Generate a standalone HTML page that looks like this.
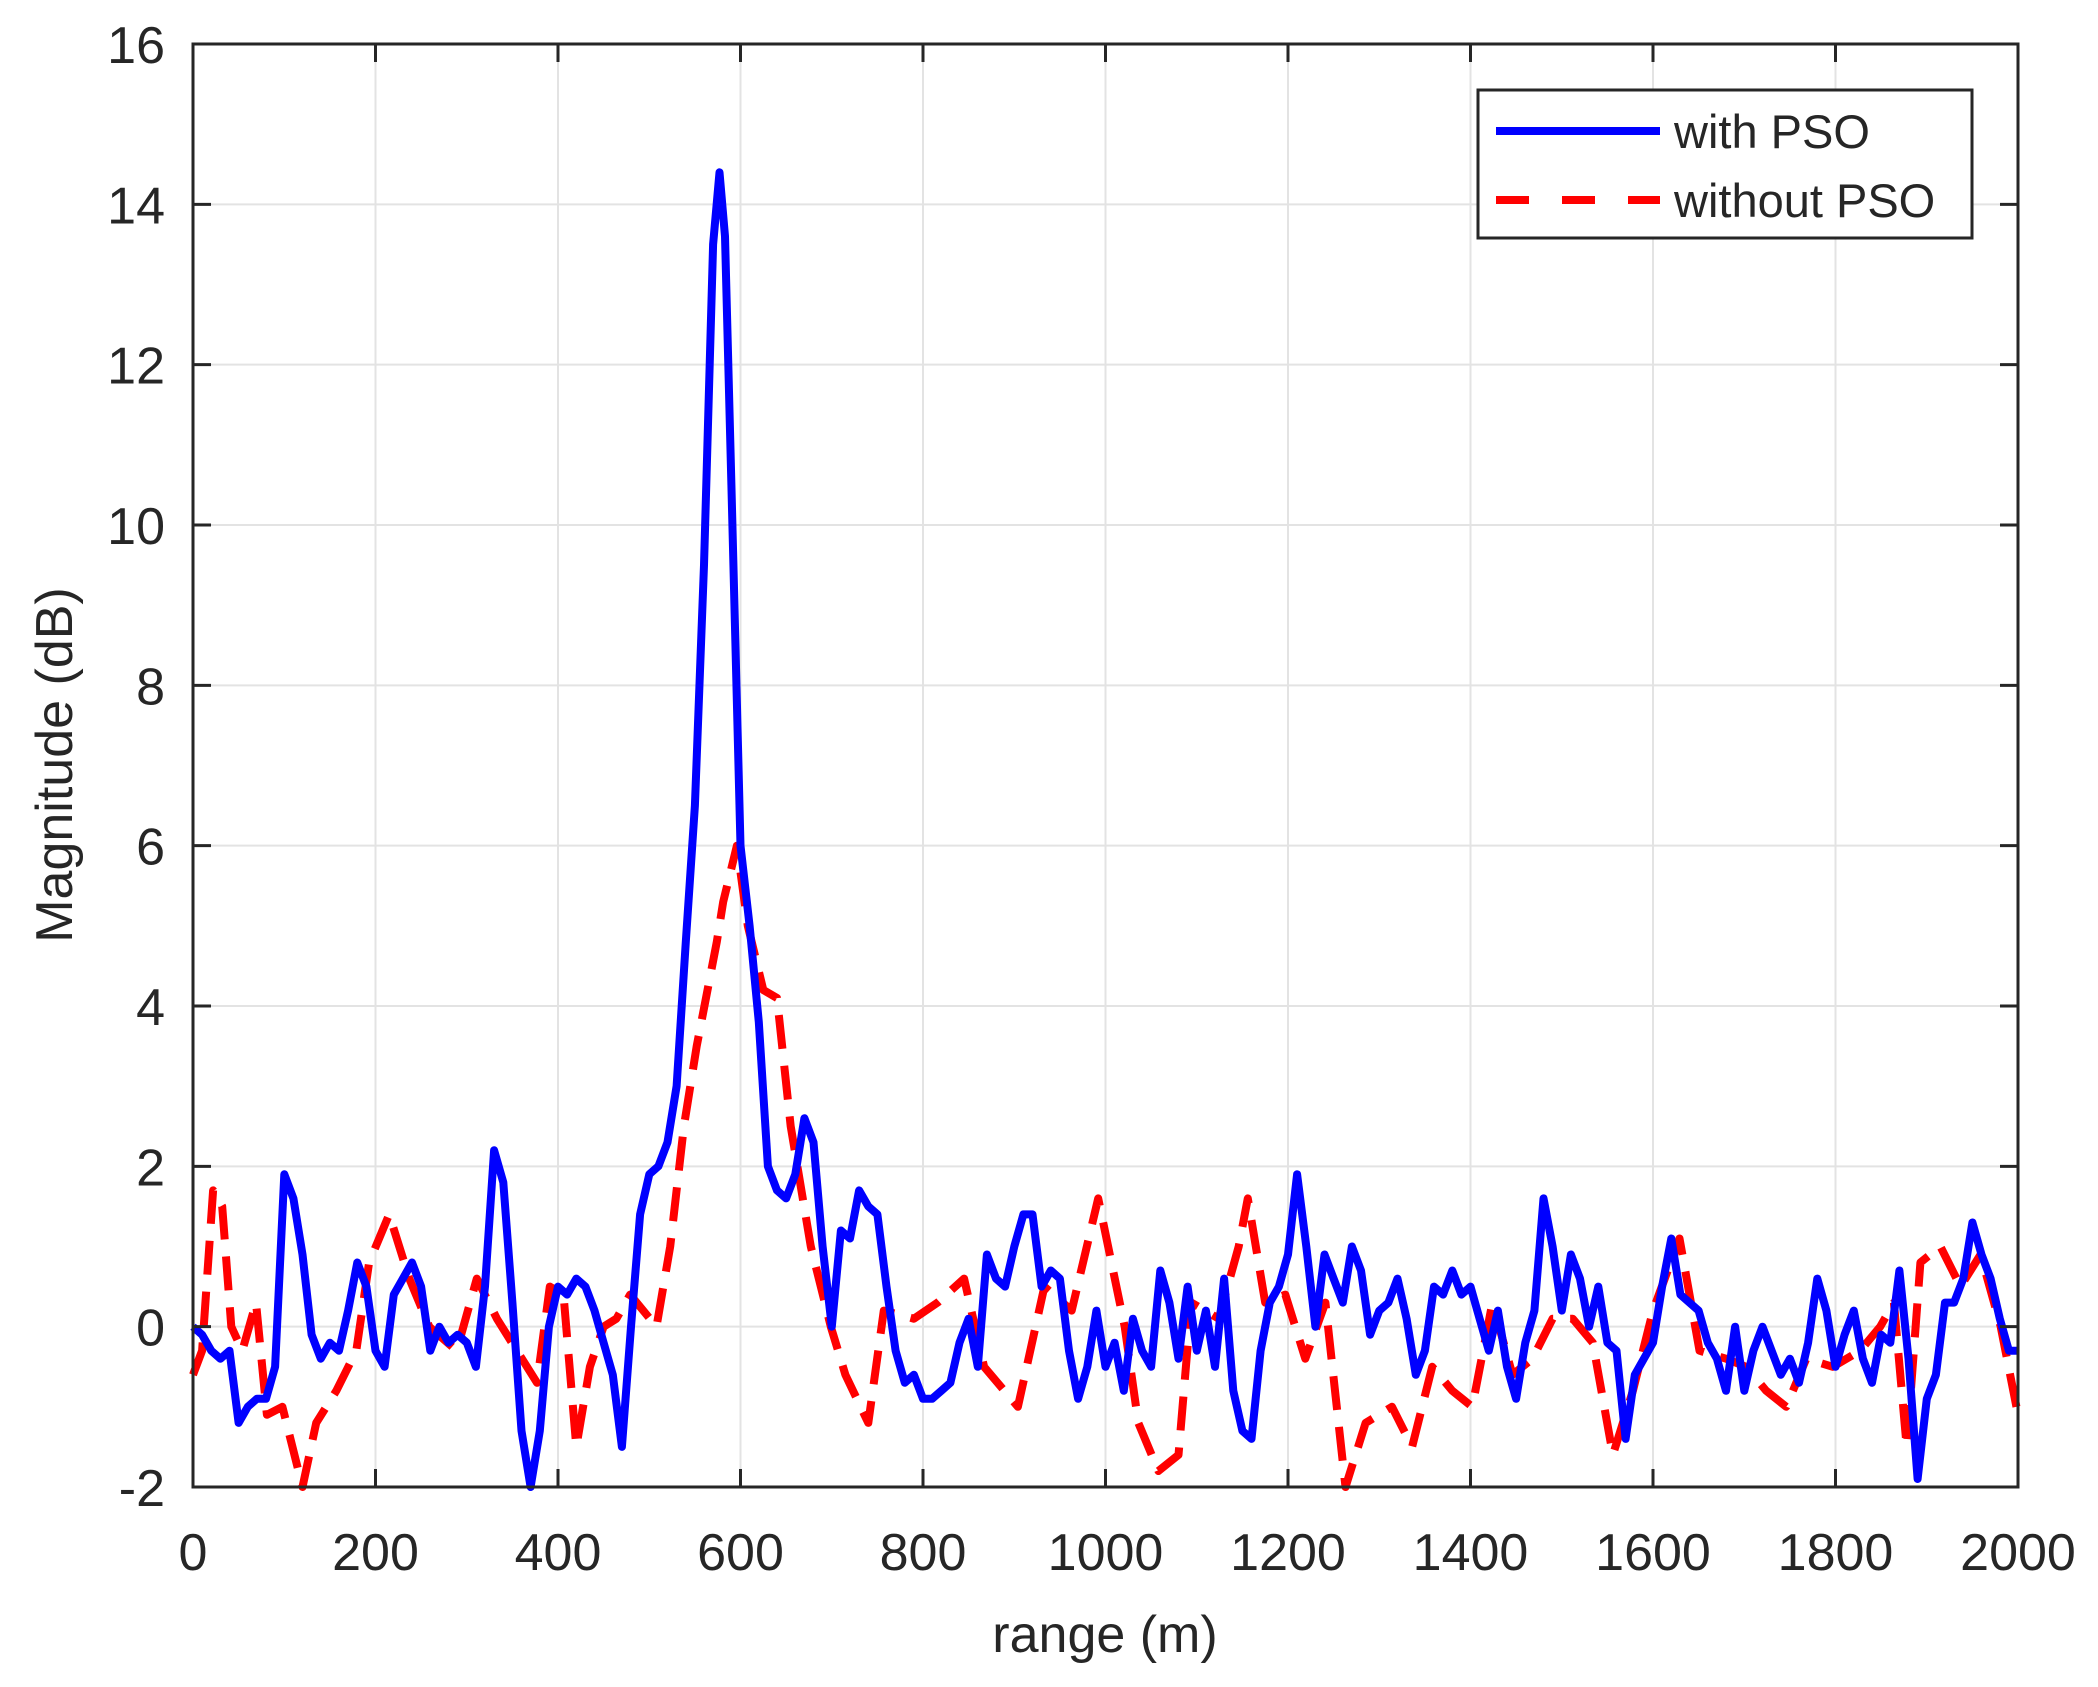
<!DOCTYPE html>
<html><head><meta charset="utf-8"><style>
html,body{margin:0;padding:0;background:#fff;}
svg{display:block;font-family:"Liberation Sans",Arial,sans-serif;}
</style></head><body>
<svg id="chart" width="2098" height="1687" viewBox="0 0 2098 1687" xmlns="http://www.w3.org/2000/svg">
<rect width="2098" height="1687" fill="#fff"/>
<g id="grid"></g>
<g id="series"></g>
<rect x="193" y="44" width="1825" height="1443" fill="none" stroke="#262626" stroke-width="3"/>
<g id="ticks"></g>
<text x="1105" y="1652" font-size="52" fill="#262626" text-anchor="middle">range (m)</text>
<text transform="translate(72,765) rotate(-90)" font-size="52" fill="#262626" text-anchor="middle">Magnitude (dB)</text>
<g>
<rect x="1478" y="90" width="494" height="148" fill="#fff" stroke="#262626" stroke-width="3"/>
<line x1="1496" y1="131" x2="1660" y2="131" stroke="#0000ff" stroke-width="8"/>
<text x="1674" y="148" font-size="47" fill="#262626">with PSO</text>
<line x1="1496" y1="200" x2="1660" y2="200" stroke="#ff0000" stroke-width="8" stroke-dasharray="33,33"/>
<text x="1674" y="217" font-size="47" fill="#262626">without PSO</text>
</g>
</svg>
<script>
const xTicks=[0,200,400,600,800,1000,1200,1400,1600,1800,2000];
const yTicks=[-2,0,2,4,6,8,10,12,14,16];
const withX=[0,10,20,30,40,50,60,70,80,90,100,110,120,130,140,150,160,170,180,190,200,210,220,230,240,250,260,270,280,290,300,310,320,330,340,350,360,370,380,390,400,410,420,430,440,450,460,470,480,490,500,510,520,530,540,550,560,570,577,583,590,600,610,620,630,640,650,660,670,680,690,700,710,720,730,740,750,760,770,780,790,800,810,820,830,840,850,860,870,880,890,900,910,920,930,940,950,960,970,980,990,1000,1010,1020,1030,1040,1050,1060,1070,1080,1090,1100,1110,1120,1130,1140,1150,1160,1170,1180,1190,1200,1210,1220,1230,1240,1250,1260,1270,1280,1290,1300,1310,1320,1330,1340,1350,1360,1370,1380,1390,1400,1410,1420,1430,1440,1450,1460,1470,1480,1490,1500,1510,1520,1530,1540,1550,1560,1570,1580,1590,1600,1610,1620,1630,1640,1650,1660,1670,1680,1690,1700,1710,1720,1730,1740,1750,1760,1770,1780,1790,1800,1810,1820,1830,1840,1850,1860,1870,1880,1890,1900,1910,1920,1930,1940,1950,1960,1970,1980,1990,2000];
const withY=[0,-0.1,-0.3,-0.4,-0.3,-1.2,-1.0,-0.9,-0.9,-0.5,1.9,1.6,0.9,-0.1,-0.4,-0.2,-0.3,0.2,0.8,0.5,-0.3,-0.5,0.4,0.6,0.8,0.5,-0.3,0.0,-0.2,-0.1,-0.2,-0.5,0.5,2.2,1.8,0.3,-1.3,-2.0,-1.3,0.0,0.5,0.4,0.6,0.5,0.2,-0.2,-0.6,-1.5,0.0,1.4,1.9,2.0,2.3,3.0,4.8,6.5,9.5,13.5,14.4,13.6,10.5,6.0,5.0,3.8,2.0,1.7,1.6,1.9,2.6,2.3,1.0,0.0,1.2,1.1,1.7,1.5,1.4,0.5,-0.3,-0.7,-0.6,-0.9,-0.9,-0.8,-0.7,-0.2,0.1,-0.5,0.9,0.6,0.5,1.0,1.4,1.4,0.5,0.7,0.6,-0.3,-0.9,-0.5,0.2,-0.5,-0.2,-0.8,0.1,-0.3,-0.5,0.7,0.3,-0.4,0.5,-0.3,0.2,-0.5,0.6,-0.8,-1.3,-1.4,-0.3,0.3,0.5,0.9,1.9,1.0,0.0,0.9,0.6,0.3,1.0,0.7,-0.1,0.2,0.3,0.6,0.1,-0.6,-0.3,0.5,0.4,0.7,0.4,0.5,0.1,-0.3,0.2,-0.5,-0.9,-0.2,0.2,1.6,1.0,0.2,0.9,0.6,0.0,0.5,-0.2,-0.3,-1.4,-0.6,-0.4,-0.2,0.5,1.1,0.4,0.3,0.2,-0.2,-0.4,-0.8,0.0,-0.8,-0.3,0.0,-0.3,-0.6,-0.4,-0.7,-0.2,0.6,0.2,-0.5,-0.1,0.2,-0.4,-0.7,-0.1,-0.2,0.7,-0.4,-1.9,-0.9,-0.6,0.3,0.3,0.6,1.3,0.9,0.6,0.1,-0.3,-0.3];
const withoutX=[0,10,22,32,42,54,69,81,98,120,135,157,179,193,215,237,259,289,311,333,355,377,391,406,420,435,450,464,479,508,523,538,552,574,581,596,608,625,640,655,677,699,715,740,757,790,816,845,867,904,933,963,992,1021,1036,1058,1080,1094,1124,1146,1156,1175,1197,1219,1241,1263,1285,1314,1336,1358,1380,1402,1424,1446,1468,1490,1512,1534,1556,1578,1600,1629,1651,1680,1702,1724,1746,1768,1797,1827,1849,1864,1878,1893,1915,1937,1959,1981,2000];
const withoutY=[-0.6,-0.3,1.7,1.5,0,-0.3,0.3,-1.1,-1.0,-2.3,-1.2,-0.8,-0.3,0.8,1.4,0.6,0.0,-0.3,0.6,0.1,-0.3,-0.7,0.5,0.4,-1.5,-0.5,0.0,0.1,0.4,0.0,1.0,2.5,3.5,4.8,5.3,6.0,5.0,4.2,4.1,2.5,1.0,0.0,-0.6,-1.2,0.2,0.1,0.3,0.6,-0.5,-1.0,0.5,0.2,1.6,0.0,-1.2,-1.8,-1.6,0.3,0.1,1.0,1.6,0.3,0.4,-0.4,0.3,-2.2,-1.2,-1.0,-1.5,-0.5,-0.8,-1.0,0.3,-0.6,-0.4,0.1,0.1,-0.2,-1.6,-0.8,0.2,1.1,-0.3,-0.4,-0.5,-0.8,-1.0,-0.4,-0.5,-0.3,0.0,0.3,-1.5,0.8,1.0,0.5,0.9,0.0,-1.1];
const X0=193,X1=2018,Y0=1487,Y1=44;
function sx(v){return X0+(v-0)/(2000-0)*(X1-X0);}
function sy(v){return Y0-(v-(-2))/(16-(-2))*(Y0-Y1);}
const NS='http://www.w3.org/2000/svg';
const grid=document.getElementById('grid'),ticks=document.getElementById('ticks'),series=document.getElementById('series');
function mk(tag,attrs,parent){const e=document.createElementNS(NS,tag);for(const k in attrs)e.setAttribute(k,attrs[k]);parent.appendChild(e);return e;}
xTicks.forEach(t=>{
  const x=sx(t);
  const g=mk('line',{x1:x,y1:Y1,x2:x,y2:Y0,stroke:'#e3e3e3','stroke-width':2},grid);
  
  
  const tk=mk('line',{x1:x,y1:Y0,x2:x,y2:Y0-18,stroke:'#262626','stroke-width':3},ticks);
  
  
  const tk2=mk('line',{x1:x,y1:Y1,x2:x,y2:Y1+18,stroke:'#262626','stroke-width':3},ticks);
  
  
  const lb=mk('text',{x:x,y:1570,'font-size':52,fill:'#262626','text-anchor':'middle'},ticks);
  lb.textContent=t;
  
  
});
yTicks.forEach(t=>{
  const y=sy(t);
  const g=mk('line',{x1:X0,y1:y,x2:X1,y2:y,stroke:'#e3e3e3','stroke-width':2},grid);
  
  
  const tk=mk('line',{x1:X0,y1:y,x2:X0+18,y2:y,stroke:'#262626','stroke-width':3},ticks);
  
  
  const tk2=mk('line',{x1:X1,y1:y,x2:X1-18,y2:y,stroke:'#262626','stroke-width':3},ticks);
  
  
  const lb=mk('text',{x:165,y:y+19,'font-size':52,fill:'#262626','text-anchor':'end'},ticks);
  lb.textContent=t;
  
  
});
function path(xs,ys){return xs.map((v,i)=>(i?'L':'M')+sx(v).toFixed(1)+','+Math.max(Y1,Math.min(Y0,sy(ys[i]))).toFixed(1)).join(' ');}
const pWithout=mk('path',{d:path(withoutX,withoutY),fill:'none',stroke:'#ff0000','stroke-width':8,'stroke-dasharray':'34,17','stroke-linejoin':'round'},series);


const pWith=mk('path',{d:path(withX,withY),fill:'none',stroke:'#0000ff','stroke-width':8,'stroke-linejoin':'round'},series);


</script>
</body></html>
